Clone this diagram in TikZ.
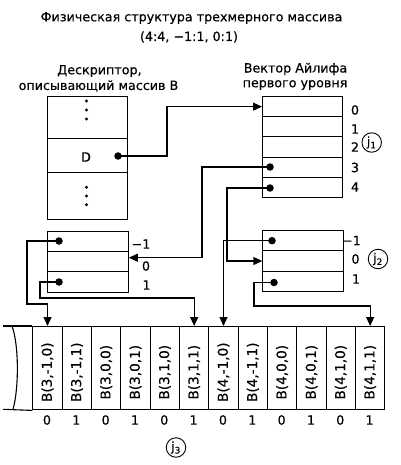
\documentclass[tikz,border=0pt]{standalone}
\usepackage{fontspec}
\usepackage{graphicx}
\setmainfont[FakeBold=0.4]{DejaVu Sans}
\usetikzlibrary{arrows.meta}
\begin{document}
\begin{tikzpicture}[x=1pt,y=-1pt,
  font=\fontsize{12.7}{15}\selectfont,
  cellbox/.style={draw,line width=1.1pt,inner sep=0pt,anchor=north west},
  ptr/.style={circle,fill=black,inner sep=0pt,minimum size=7.5pt},
  arr/.style={line width=1.1pt,-{Triangle[length=9pt,width=8pt]}},
  conn/.style={line width=1.1pt},
  lbl/.style={inner sep=0pt},
  celltext/.style={inner sep=0pt,font=\fontsize{13.6}{15}\selectfont},
  jcirc/.style={circle,draw,line width=0.9pt,inner sep=0pt,minimum size=19.5pt}]
\path[fill=white] (0,0) rectangle (400,465);
\useasboundingbox (0,0) rectangle (400,465);
% titles
\node[lbl] (t1) at (191.5,18) {Физическая структура трехмерного массива};
\node[lbl] (t2) at (189,37) {(4:4, −1:1, 0:1)};
\node[lbl] (h1) at (99.5,71) {Дескриптор,};
\node[lbl] (h2) at (98.5,86) {описывающий массив B};
\node[lbl] (h3) at (295.5,69) {Вектор Айлифа};
\node[lbl] (h4) at (295,85) {первого уровня};
% descriptor
\node[cellbox,minimum width=80pt,minimum height=42.3pt] (d1) at (46.7,96) {};
\node[cellbox,minimum width=80pt,minimum height=33.4pt] (d2) at (46.7,138.3) {};
\node[cellbox,minimum width=80pt,minimum height=47.3pt] (d3) at (46.7,171.7) {};
\foreach \yy in {101,110,119,187.3,196,204.7} \fill (86.5,\yy) circle (1.6pt);
\node[lbl] (dtext) at (86,157) {D};
\node[ptr] (dd) at (118,156) {};
% vector level 1
\foreach \k in {0,...,4}
  \node[cellbox,minimum width=80pt,minimum height=20.2pt] (v\k) at (262,{96+20.2*\k}) {};
\node[lbl] (vl0) at (355,110) {0};
\node[lbl] (vl1) at (355,129) {1};
\node[lbl] (vl2) at (355,147) {2};
\node[lbl] (vl3) at (355,167.5) {3};
\node[lbl] (vl4) at (355,187) {4};
\node[jcirc] (j1) at (371.7,142.5) {j\textsubscript{1}};
\node[ptr] (vd3) at (270,167) {};
\node[ptr] (vd4) at (270,188) {};
% left second-level vector
\node[cellbox,minimum width=81pt,minimum height=20.3pt] (lm) at (46.7,230.7) {};
\node[cellbox,minimum width=81pt,minimum height=20.3pt] (l0) at (46.7,251) {};
\node[cellbox,minimum width=81pt,minimum height=20.3pt] (lp) at (46.7,271.3) {};
\node[lbl] (ll1) at (141,244) {−1};
\node[lbl] (ll2) at (146,266) {0};
\node[lbl] (ll3) at (146.5,285) {1};
\node[ptr] (ldA) at (59,241) {};
\node[ptr] (ldB) at (59,282) {};
% right second-level vector
\node[cellbox,minimum width=80.4pt,minimum height=20.3pt] (rm) at (262.3,230) {};
\node[cellbox,minimum width=80.4pt,minimum height=20.3pt] (r0) at (262.3,250.3) {};
\node[cellbox,minimum width=80.4pt,minimum height=20.3pt] (rp) at (262.3,270.6) {};
\node[lbl] (rl1) at (351.5,240.5) {−1};
\node[lbl] (rl2) at (355.5,259) {0};
\node[lbl] (rl3) at (356,279) {1};
\node[jcirc] (j2) at (378,259) {j\textsubscript{2}};
\node[ptr] (rdA) at (272,240.7) {};
\node[ptr] (rdB) at (274,282.5) {};
% array
\foreach \t [count=\i] in {{B(3,-1,0)},{B(3,-1,1)},{B(3,0,0)},{B(3,0,1)},{B(3,1,0)},{B(3,1,1)},{B(4,-1,0)},{B(4,-1,1)},{B(4,0,0)},{B(4,0,1)},{B(4,1,0)},{B(4,1,1)}}{
  \node[cellbox,minimum width=29.33pt,minimum height=83.3pt] (c\i) at ({32.3+(\i-1)*29.33},326) {};
  \node[celltext] (ct\i) at ([yshift=-4pt]c\i.center) {\rotatebox{90}{\t}};
  \pgfmathtruncatemacro\bb{mod(\i+1,2)}
  \node[lbl] (b\i) at ({32.3+(\i-0.5)*29.33},420) {\bb};
}
\draw[conn] (3,326) -- (c1.north west);
\draw[conn] (3,409.3) -- (c1.south west);
\draw[conn] (12,326) .. controls (19,345) and (19,388) .. (13,409.3);
\node[jcirc] (j3) at (176,447.5) {j\textsubscript{3}};
% connectors
\draw[arr] (dd.center) -- (167,156) |- (v0.west);
\draw[arr] (vd3.center) -- (202,167) |- ([yshift=4pt]l0.east);
\draw[arr] (vd4.center) -- (227,188) |- (r0.west);
\draw[arr] (ldA.center) -| (27,304) -| (c1.north);
\draw[arr] (ldB.center) -| (40,298) -| (c6.north);
\draw[arr] (rdA.center) -| (c7.north);
\draw[arr] (rdB.center) -| (254,306) -| (c12.north);
\end{tikzpicture}
\end{document}
